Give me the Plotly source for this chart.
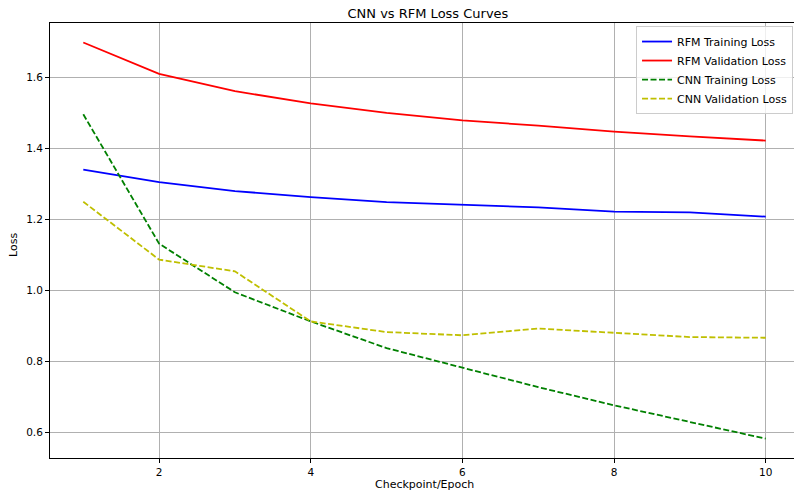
import plotly.graph_objects as go

epochs = [1, 2, 3, 4, 5, 6, 7, 8, 9, 10]
rfm_train = [1.339, 1.304, 1.279, 1.262, 1.248, 1.240, 1.233, 1.221, 1.219, 1.207]
rfm_val = [1.697, 1.609, 1.560, 1.526, 1.499, 1.478, 1.463, 1.446, 1.433, 1.421]
cnn_train = [1.495, 1.131, 0.994, 0.912, 0.837, 0.783, 0.727, 0.676, 0.628, 0.582]
cnn_val = [1.249, 1.086, 1.053, 0.912, 0.882, 0.873, 0.892, 0.881, 0.868, 0.866]

x_ticks = [2, 4, 6, 8, 10]
y_ticks = [0.6, 0.8, 1.0, 1.2, 1.4, 1.6]

FONT = "DejaVu Sans"
dash = "6px,2.5px"

fig = go.Figure()
fig.add_trace(go.Scatter(x=epochs, y=rfm_train, mode="lines", name="RFM Training Loss",
                         line=dict(color="#0000ff", width=1.8)))
fig.add_trace(go.Scatter(x=epochs, y=rfm_val, mode="lines", name="RFM Validation Loss",
                         line=dict(color="#ff0000", width=1.8)))
fig.add_trace(go.Scatter(x=epochs, y=cnn_train, mode="lines", name="CNN Training Loss",
                         line=dict(color="#008000", width=1.8, dash=dash)))
fig.add_trace(go.Scatter(x=epochs, y=cnn_val, mode="lines", name="CNN Validation Loss",
                         line=dict(color="#bfbf00", width=1.8, dash=dash)))

axis_common = dict(
    showline=True, linecolor="black", linewidth=1,
    showgrid=True, gridcolor="#b0b0b0", gridwidth=1,
    ticks="outside", ticklen=4, tickwidth=1, tickcolor="black",
    tickfont=dict(family=FONT, size=10.5, color="black"),
    zeroline=False,
)

fig.update_layout(
    width=794, height=492,
    margin=dict(l=50, r=0, t=23, b=34),
    paper_bgcolor="white", plot_bgcolor="white",
    font=dict(family=FONT, size=11, color="black"),
    title=dict(text="CNN vs RFM Loss Curves", xref="paper", x=0.508, xanchor="center",
               yref="container", y=0.9736, yanchor="middle",
               font=dict(family=FONT, size=13, color="black")),
    xaxis=dict(range=[0.561, 10.373], tickvals=x_ticks, ticktext=[str(v) for v in x_ticks],
               mirror=True, **axis_common),
    yaxis=dict(range=[0.5276, 1.752], tickvals=y_ticks, ticktext=[f"{v:.1f}" for v in y_ticks],
               mirror=False, **axis_common),
    legend=dict(x=0.9987, xanchor="right", y=0.993, yanchor="top",
                bgcolor="rgba(255,255,255,0.8)", bordercolor="#cccccc", borderwidth=1,
                font=dict(family=FONT, size=11, color="black"),
                tracegroupgap=0, itemwidth=30),
    showlegend=True,
    annotations=[
        dict(text="Checkpoint/Epoch", xref="paper", yref="paper", x=0.5027, y=-0.062,
             xanchor="center", yanchor="middle", showarrow=False,
             font=dict(family=FONT, size=11, color="black")),
        dict(text="Loss", xref="paper", yref="paper", x=-0.0484, y=0.4897,
             xanchor="center", yanchor="middle", showarrow=False, textangle=-90,
             font=dict(family=FONT, size=11, color="black")),
    ],
)

fig.write_html(
    "out.html",
    config={"displayModeBar": False},
    post_script="document.body.style.margin='0';document.body.style.overflow='hidden';",
)
